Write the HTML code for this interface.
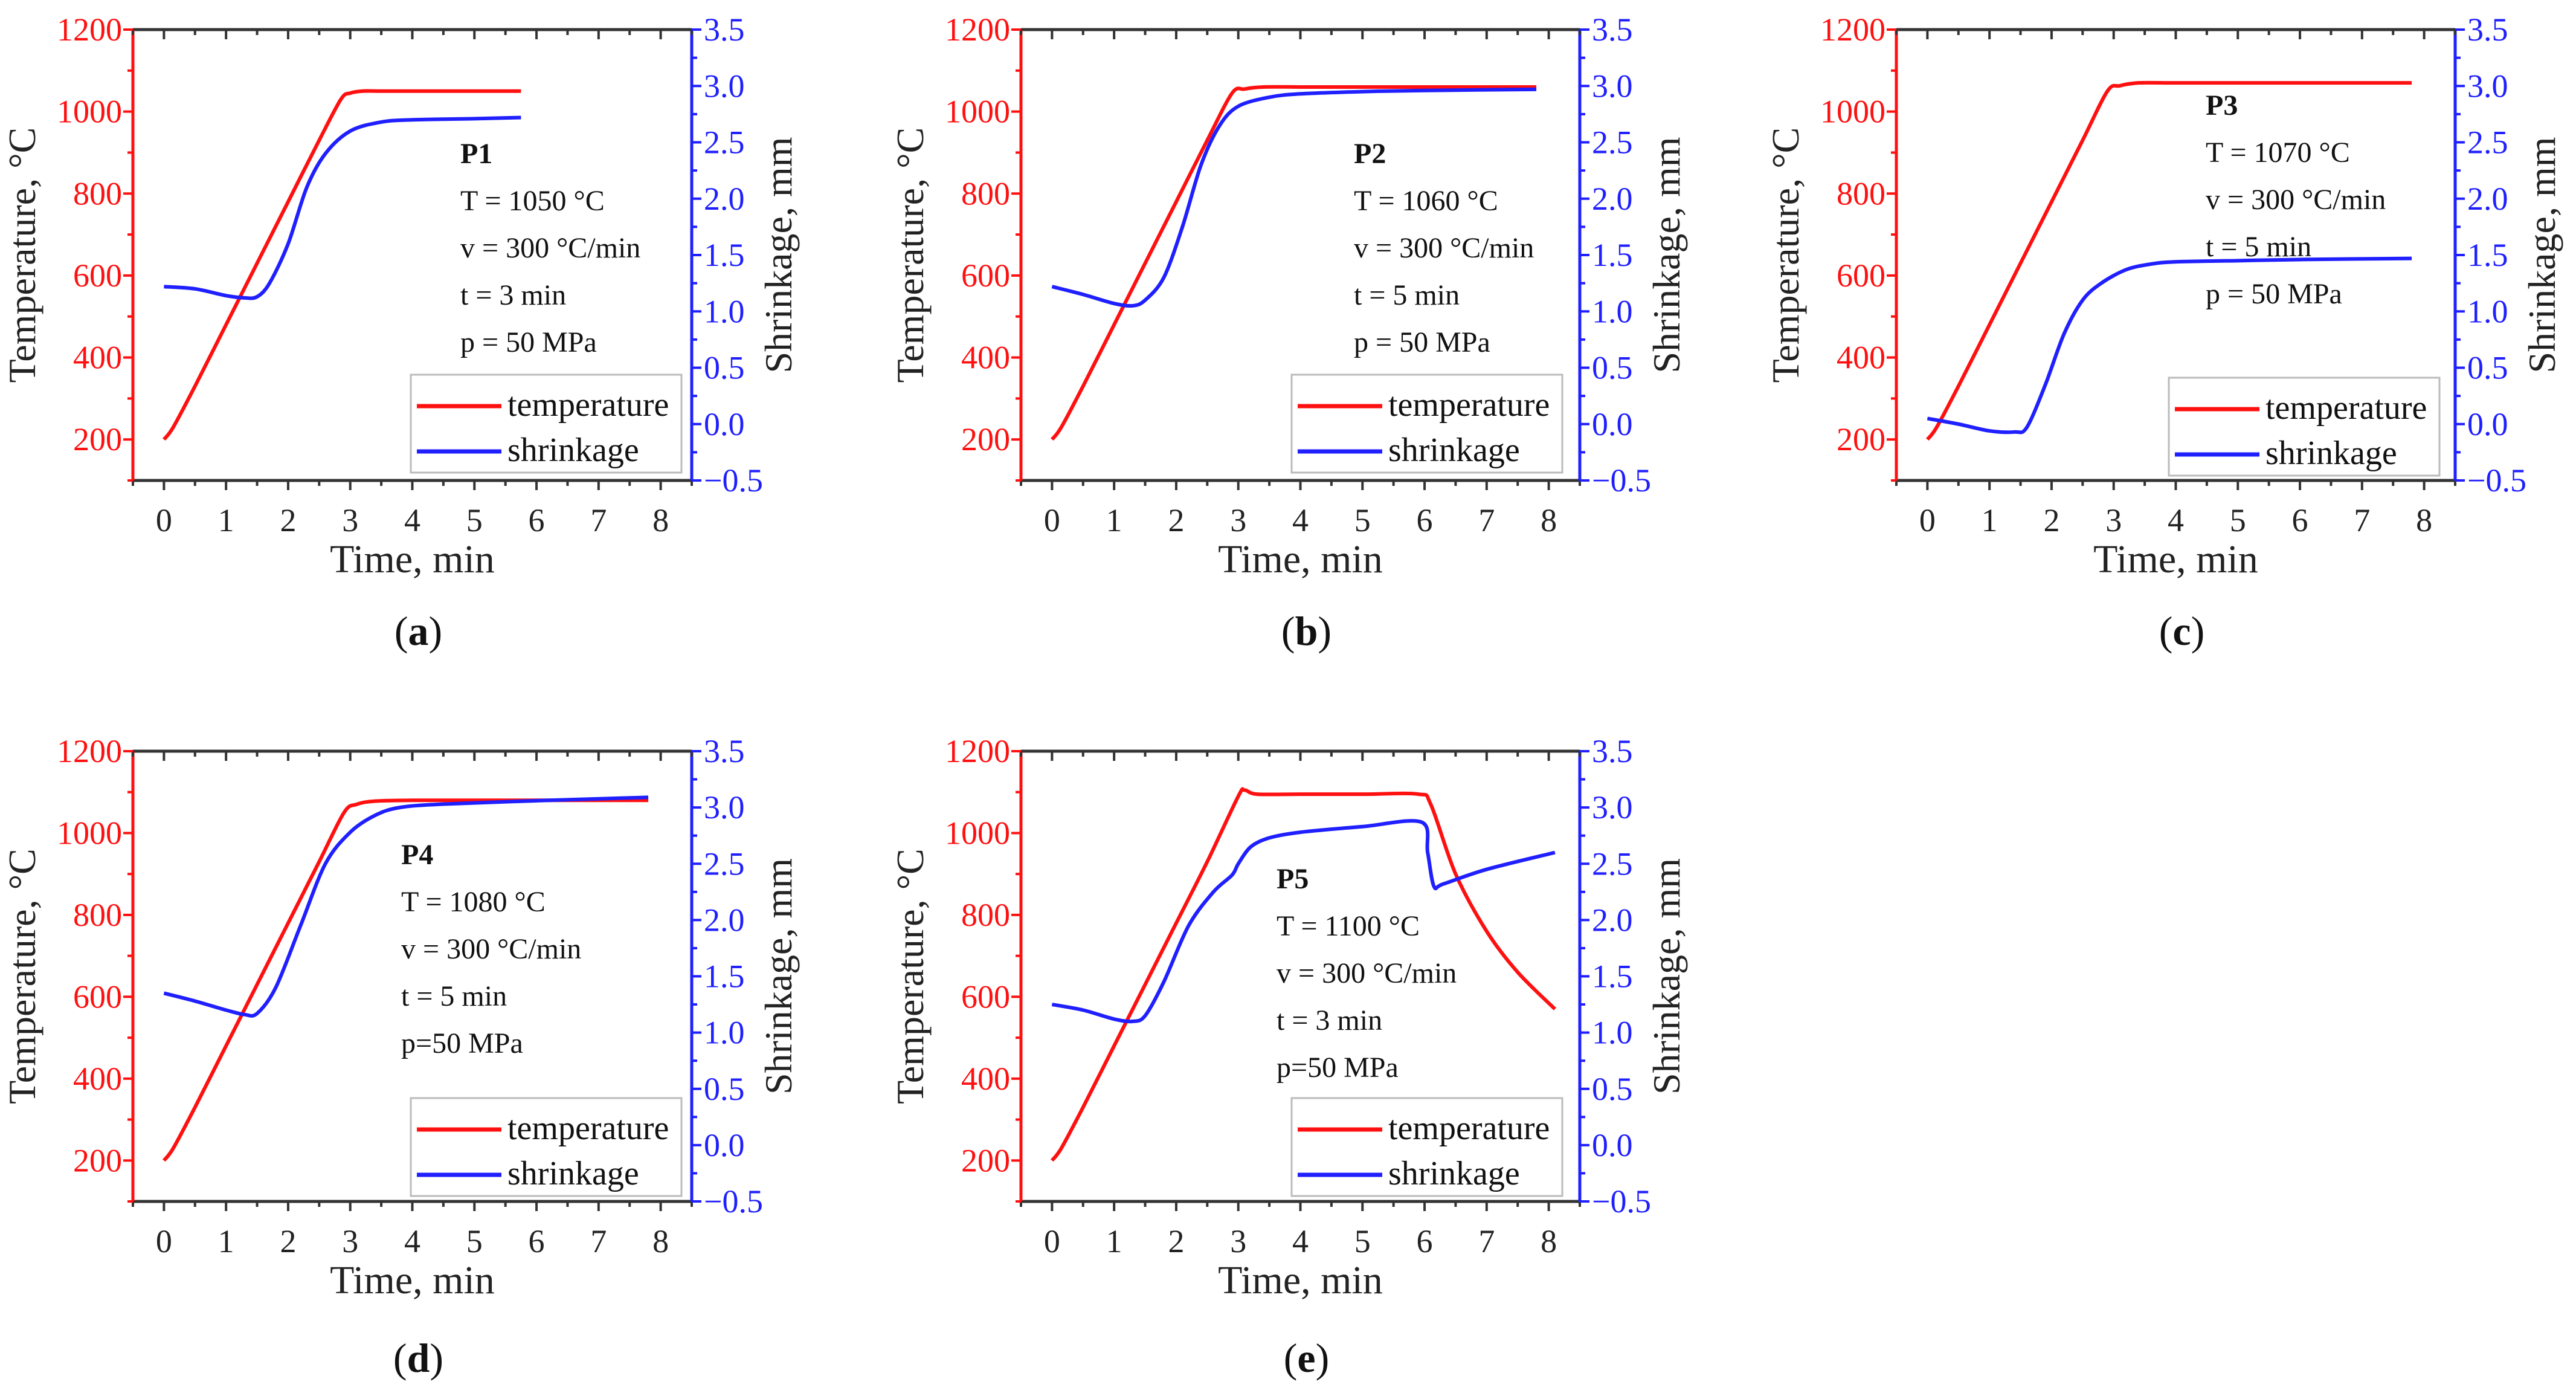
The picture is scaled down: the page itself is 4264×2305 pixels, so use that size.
<!DOCTYPE html>
<html><head><meta charset="utf-8"><style>
html,body{margin:0;padding:0;background:#fff;}
svg{display:block;font-family:"Liberation Serif",serif;}
</style></head><body>
<svg id="fig" width="4264" height="2305" viewBox="0 0 4264 2305" xmlns="http://www.w3.org/2000/svg"></svg>
<script>
// ---- data ----
const panelIds = ['a','b','c','d','e'];
const tempA_t = [0,0.15,0.5,1,1.5,2,2.5,2.85,3.0,3.2,3.5,4,5,5.75];
const tempA_v = [200,230,330,480,630,780,930,1030,1045,1050,1050,1050,1050,1050];
const shrA_t = [0,0.5,1,1.3,1.5,1.7,2,2.3,2.6,3,3.5,4,5,5.75];
const shrA_v = [1.22,1.2,1.14,1.12,1.13,1.25,1.6,2.1,2.4,2.6,2.68,2.7,2.71,2.72];
const tempB_t = [0,0.15,0.5,1,1.5,2,2.5,2.9,3.1,3.4,4,5,6,7.8];
const tempB_v = [200,230,330,480,630,780,930,1045,1055,1060,1060,1060,1060,1060];
const shrB_t = [0,0.5,1,1.3,1.5,1.8,2.1,2.4,2.7,3,3.5,4,5,6,7.8];
const shrB_v = [1.22,1.15,1.07,1.05,1.1,1.3,1.75,2.3,2.65,2.82,2.9,2.93,2.95,2.96,2.97];
const tempC_t = [0,0.15,0.5,1,1.5,2,2.5,2.9,3.1,3.4,4,5,6,7.8];
const tempC_v = [200,230,330,480,630,780,930,1050,1063,1070,1070,1070,1070,1070];
const shrC_t = [0,0.5,1,1.4,1.6,1.9,2.2,2.5,2.8,3.2,3.6,4,5,6,7.8];
const shrC_v = [0.05,0.0,-0.06,-0.07,-0.03,0.35,0.8,1.1,1.25,1.37,1.42,1.44,1.45,1.46,1.47];
const tempD_t = [0,0.15,0.5,1,1.5,2,2.5,2.9,3.1,3.4,4,5,6,7.8];
const tempD_v = [200,230,330,480,630,780,930,1050,1070,1078,1080,1080,1080,1080];
const shrD_t = [0,0.5,1,1.3,1.5,1.8,2.2,2.6,3,3.4,3.8,4.5,6,7.8];
const shrD_v = [1.35,1.28,1.2,1.16,1.17,1.4,1.95,2.5,2.78,2.93,3.0,3.03,3.06,3.09];
const tempE_t = [0,0.15,0.5,1,1.5,2,2.5,3.0,3.1,3.3,4,5,5.9,6.1,6.5,7,7.5,8.1];
const tempE_v = [200,230,330,480,630,780,930,1090,1105,1095,1095,1095,1095,1070,900,760,660,570];
const shrE_t = [0,0.5,1,1.3,1.5,1.8,2.2,2.6,2.9,3.0,3.2,3.5,4,5,5.95,6.05,6.15,6.3,7,8.1];
const shrE_v = [1.25,1.2,1.12,1.1,1.15,1.45,1.95,2.25,2.4,2.5,2.65,2.73,2.78,2.83,2.87,2.6,2.3,2.32,2.45,2.6];
const xTicks = [0,1,2,3,4,5,6,7,8];
const tTicks = [200,400,600,800,1000,1200];
const sTickLabels = ['\u22120.5','0.0','0.5','1.0','1.5','2.0','2.5','3.0','3.5'];
const sTicks = [-0.5,0,0.5,1,1.5,2,2.5,3,3.5];
const annotations = {
 a:['P1','T = 1050 °C','v = 300 °C/min','t = 3 min','p = 50 MPa'],
 b:['P2','T = 1060 °C','v = 300 °C/min','t = 5 min','p = 50 MPa'],
 c:['P3','T = 1070 °C','v = 300 °C/min','t = 5 min','p = 50 MPa'],
 d:['P4','T = 1080 °C','v = 300 °C/min','t = 5 min','p=50 MPa'],
 e:['P5','T = 1100 °C','v = 300 °C/min','t = 3 min','p=50 MPa']
};
const series = {
 a:[tempA_t,tempA_v,shrA_t,shrA_v], b:[tempB_t,tempB_v,shrB_t,shrB_v],
 c:[tempC_t,tempC_v,shrC_t,shrC_v], d:[tempD_t,tempD_v,shrD_t,shrD_v],
 e:[tempE_t,tempE_v,shrE_t,shrE_v]
};
// ---- layout ----
const layout = {
 a:{L:220,R:1145,T:49,B:795, ann:[762,270], leg:[680,620], cap:1047},
 b:{L:1690,R:2615,T:49,B:795, ann:[2241,270], leg:[2138,620], cap:1047},
 c:{L:3139,R:4064,T:49,B:795, ann:[3651,190], leg:[3590,625], cap:1047},
 d:{L:220,R:1145,T:1243,B:1988, ann:[664,1430], leg:[680,1817], cap:2250},
 e:{L:1690,R:2615,T:1243,B:1988, ann:[2113,1470], leg:[2138,1817], cap:2250}
};
const RED='#ff1010', BLUE='#1f1fff', NS='http://www.w3.org/2000/svg';
const svg=document.getElementById('fig');
function mk(tag,attrs,parent,text){const e=document.createElementNS(NS,tag);for(const k in attrs)e.setAttribute(k,attrs[k]);if(text!==undefined)e.textContent=text;(parent||svg).appendChild(e);return e;}
function smooth(pts){
 let d='M'+pts[0][0]+','+pts[0][1];
 for(let i=0;i<pts.length-1;i++){
  const p0=pts[Math.max(0,i-1)],p1=pts[i],p2=pts[i+1],p3=pts[Math.min(pts.length-1,i+2)];
  const k=0.16;
  d+=' C'+(p1[0]+(p2[0]-p0[0])*k)+','+(p1[1]+(p2[1]-p0[1])*k)+' '+(p2[0]-(p3[0]-p1[0])*k)+','+(p2[1]-(p3[1]-p1[1])*k)+' '+p2[0]+','+p2[1];
 }
 return d;
}

panelIds.forEach(id=>{
 const P=layout[id];
 const g=mk('g',{});
 
 
 const sx=t=>P.L+(t+0.5)/9*(P.R-P.L);
 const sy=v=>P.B-(v-100)/1100*(P.B-P.T);
 const ss=v=>P.B-(v+0.5)/4*(P.B-P.T);
 let e=mk('line',{x1:P.L,y1:P.T,x2:P.R,y2:P.T,stroke:'#333','stroke-width':5},g);
 
 e=mk('line',{x1:P.L,y1:P.B,x2:P.R,y2:P.B,stroke:'#333','stroke-width':5},g);
 
 e=mk('line',{x1:P.L,y1:P.T,x2:P.L,y2:P.B,stroke:RED,'stroke-width':5},g);
 
 e=mk('line',{x1:P.R,y1:P.T,x2:P.R,y2:P.B,stroke:BLUE,'stroke-width':5},g);
 
 for(let t=-0.5;t<=8.5;t+=0.5){
  const major=Number.isInteger(t);const x=sx(t);const len=major?16:9;
  mk('line',{x1:x,y1:P.B,x2:x,y2:P.B+len,stroke:'#333','stroke-width':4},g);
  mk('line',{x1:x,y1:P.T,x2:x,y2:P.T+len,stroke:'#333','stroke-width':4},g);
 }
 xTicks.forEach(t=>{
  const tx=mk('text',{x:sx(t),y:P.B+84,'font-size':54,'text-anchor':'middle',fill:'#222'},g,String(t));
  
 });
 for(let v=100;v<=1200;v+=100){const y=sy(v);mk('line',{x1:P.L,y1:y,x2:P.L-(v%200===0?16:9),y2:y,stroke:RED,'stroke-width':4},g);}
 tTicks.forEach(v=>{
  const tx=mk('text',{x:P.L-18,y:sy(v)+18,'font-size':54,'text-anchor':'end',fill:RED},g,String(v));
  
 });
 for(let v=-0.5;v<=3.5;v+=0.25){const y=ss(v);mk('line',{x1:P.R,y1:y,x2:P.R+(Math.abs(v*2-Math.round(v*2))<1e-6?16:9),y2:y,stroke:BLUE,'stroke-width':4},g);}
 sTicks.forEach((v,i)=>{
  const tx=mk('text',{x:P.R+20,y:ss(v)+18,'font-size':54,fill:BLUE},g,sTickLabels[i]);
  
 });
 let tt=mk('text',{x:(P.L+P.R)/2,y:P.B+152,'font-size':66,'text-anchor':'middle',fill:'#222'},g,'Time, min');
 
 const cy=(P.T+P.B)/2;
 tt=mk('text',{x:0,y:0,'font-size':64,'text-anchor':'middle',fill:'#222',transform:`translate(${P.L-162},${cy}) rotate(-90)`},g,'Temperature, °C');
 
 tt=mk('text',{x:0,y:0,'font-size':64,'text-anchor':'middle',fill:'#222',transform:`translate(${P.R+165},${cy}) rotate(-90)`},g,'Shrinkage, mm');
 
 const [tt_,tv,st,sv]=series[id];
 let pl=mk('path',{d:smooth(tt_.map((t,i)=>[sx(t),sy(tv[i])])),fill:'none',stroke:RED,'stroke-width':6,'stroke-linejoin':'round'},g);
 
 pl=mk('path',{d:smooth(st.map((t,i)=>[sx(t),ss(sv[i])])),fill:'none',stroke:BLUE,'stroke-width':6,'stroke-linejoin':'round'},g);
 
 annotations[id].forEach((s,i)=>{
  const a=mk('text',{x:P.ann[0],y:P.ann[1]+i*78,'font-size':48,fill:'#111','font-weight':i===0?'bold':'normal'},g,s);
  
 });
 const lx=P.leg[0],ly=P.leg[1];
 const lg=mk('g',{},g);
 
 mk('rect',{x:lx,y:ly,width:448,height:162,fill:'#fff',stroke:'#bbb','stroke-width':3},lg);
 mk('line',{x1:lx+10,y1:ly+52,x2:lx+150,y2:ly+52,stroke:RED,'stroke-width':7},lg);
 mk('line',{x1:lx+10,y1:ly+127,x2:lx+150,y2:ly+127,stroke:BLUE,'stroke-width':7},lg);
 let le=mk('text',{x:lx+160,y:ly+68,'font-size':56,fill:'#111'},lg,'temperature');
 
 le=mk('text',{x:lx+160,y:ly+143,'font-size':56,fill:'#111'},lg,'shrinkage');
 
 const cp=mk('text',{x:(P.L+P.R)/2+10,y:P.cap+20,'font-size':68,'text-anchor':'middle',fill:'#111'},g);
 
 mk('tspan',{},cp,'(');mk('tspan',{'font-weight':'bold'},cp,id);mk('tspan',{},cp,')');
});
</script>
</body></html>
